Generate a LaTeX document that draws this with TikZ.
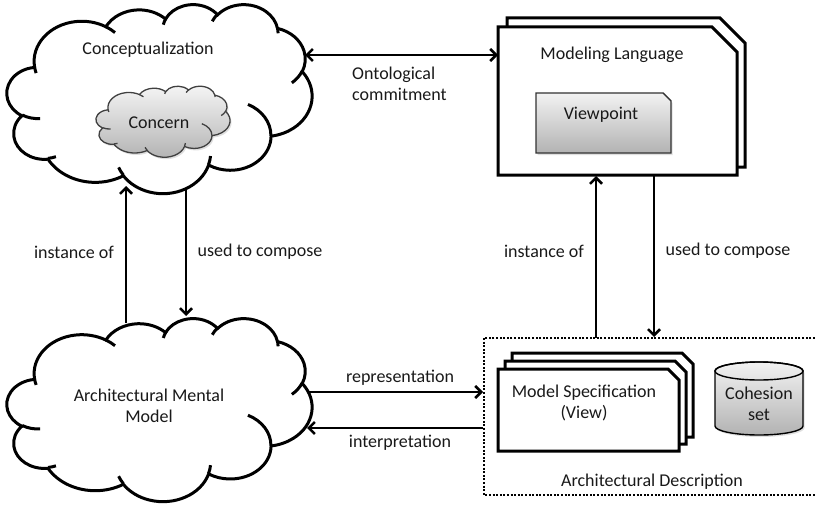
\documentclass[tikz,border=0pt]{standalone}
\usepackage{fontspec}
\setmainfont{Carlito}
\usetikzlibrary{arrows.meta,shadows}

\newcommand\carc[4]{arc[start angle={atan2(#1*sin(#3),#2*cos(#3))}, delta angle={mod(atan2(#1*sin(#3+#4),#2*cos(#3+#4))-atan2(#1*sin(#3),#2*cos(#3))+720,360)}, x radius=#1, y radius=#2]}

\newcommand\cloudouter{(39.00,143.70)
 \carc{67.53}{91.90}{-190.4875}{123.7805}
 \carc{53.33}{72.67}{-144.1024}{89.9452}
 \carc{43.65}{59.45}{-145.8079}{99.7230}
 \carc{48.57}{65.95}{-130.9861}{117.2417}
 \carc{53.33}{72.73}{-78.7089}{109.0269}
 \carc{67.75}{92.20}{-46.2673}{130.2690}
 \carc{57.85}{78.67}{0.6250}{114.0333}
 \carc{67.52}{92.15}{22.4516}{115.1726}
 \carc{77.20}{105.43}{66.2426}{75.7110}
 \carc{43.60}{59.18}{-274.9421}{146.7356}
 \carc{43.45}{59.45}{-246.8285}{152.5189} -- cycle}

\newcommand\cloudinner{(46.93,261.77) \carc{43.45}{59.45}{86.7420}{26.4295}
 (69.28,348.99) \carc{43.60}{59.18}{73.6105}{11.4475}
 (164.78,390.90) \carc{67.52}{92.15}{137.6242}{14.0811}
 (288.27,347.51) \carc{67.52}{92.15}{6.4533}{15.9984}
 (341.29,229.54) \carc{57.85}{78.67}{-70.2924}{70.9174}
 (417.98,153.54) \carc{53.33}{72.73}{30.3180}{27.7515}
 (383.24,54.26) \carc{48.57}{65.95}{-13.7443}{14.8589}
 (290.78,39.52) \carc{48.57}{65.95}{-149.1815}{18.1954}
 (221.41,47.20) \carc{43.65}{59.45}{-163.4943}{19.5048}
 (140.00,51.92) \carc{67.53}{91.90}{-66.7070}{12.3194}
 (41.27,157.89) \carc{67.53}{91.90}{157.6544}{11.8582}}

% #1 outer style, #2 inner style, #3 x0, #4 y0, #5 width, #6 height
\newcommand\drawcloud[6]{%
 \pgfmathsetmacro\cxs{#5/432}\pgfmathsetmacro\cys{#6/432}%
 \begin{scope}[shift={(#3,#4)},x=\cxs pt,y=-\cys pt]
  \path[#1] \cloudouter;
  \path[#2] \cloudinner;
 \end{scope}}

\tikzset{
 cloudout/.style={draw=black, line width=3pt, fill=white},
 cloudin/.style={draw=black, line width=3pt},
 concernout/.style={draw=black!75, line width=1.3pt, top color=black!4, bottom color=black!30,
   drop shadow={opacity=0.25, shadow xshift=1.5pt, shadow yshift=-2pt}},
 concernin/.style={draw=black!75, line width=1.3pt},
 doc/.style={draw=black, line width=3pt, fill=white},
 grayshape/.style={draw=black!80, line width=1.4pt, top color=black!5, bottom color=black!30,
   drop shadow={opacity=0.25, shadow xshift=1.5pt, shadow yshift=-2pt}},
 conn/.style={line width=2.5pt, -{Straight Barb[length=6pt,width=12pt]}},
 biconn/.style={line width=2.5pt, {Straight Barb[length=6pt,width=12pt]}-{Straight Barb[length=6pt,width=12pt]}},
 lbl/.style={font=\fontsize{18}{21}\selectfont, text=black!90, inner sep=0pt, align=center},
}

\begin{document}
\begin{tikzpicture}[x=1pt,y=-1pt]
\useasboundingbox (0,0) rectangle (816,508);

% clouds
\drawcloud{cloudout}{cloudin}{7}{4}{305}{189}
\drawcloud{concernout}{concernin}{96}{86}{134}{71}
\drawcloud{cloudout}{cloudin}{7}{318}{305}{183}

\node[lbl] (concept) at (148,50) {Conceptualization};
\node[lbl] (concern) at (159,123) {Concern};
\node[lbl] (amm) at (149,406) {Architectural Mental\\Model};

% Modeling language stack
\path[doc] (507,18) -- (720,18) -- (745,43) -- (745,167) -- (507,167) -- cycle;
\path[doc] (498,27) -- (712,27) -- (737,52) -- (737,175) -- (498,175) -- cycle;
\node[lbl] (ml) at (612,55) {Modeling Language};
\path[grayshape] (536,93) -- (663,93) -- (671,101) -- (671,153) -- (536,153) -- cycle;
\node[lbl] (vp) at (601,115) {Viewpoint};

% Architectural description
\draw[line width=2.2pt, dash pattern=on 2pt off 1.6pt] (484,338) rectangle (820,495);
\node[lbl] (ad) at (652,482) {Architectural Description};
\path[doc] (512,353) -- (682,353) -- (693,364) -- (693,437) -- (512,437) -- cycle;
\path[doc] (505,361) -- (675,361) -- (686,372) -- (686,444) -- (505,444) -- cycle;
\path[doc] (498,369) -- (668,369) -- (679,380) -- (679,451) -- (498,451) -- cycle;
\node[lbl] (ms) at (584,403) {Model Specification\\(View)};

% cylinder
\path[grayshape, draw=black] (715,371) -- (715,426) arc[start angle=180, delta angle=-180, x radius=44, y radius=9]
  -- (803,371) arc[start angle=0, delta angle=-180, x radius=44, y radius=9] -- cycle;
\draw[black, line width=1.4pt] (759,371) ellipse [x radius=44, y radius=9];
\node[lbl] (coh) at (759,404) {Cohesion\\set};

% connector end points
\coordinate (oc1) at (305,55);
\coordinate (oc2) at (498,55);
\coordinate (lu1) at (126,323);
\coordinate (lu2) at (126,186);
\coordinate (ld1) at (186,190);
\coordinate (ld2) at (186,316);
\coordinate (ru1) at (596,338);
\coordinate (ru2) at (596,176);
\coordinate (rd1) at (654,176);
\coordinate (rd2) at (654,337);
\coordinate (rp1) at (307,392);
\coordinate (rp2) at (483,392);
\coordinate (ip1) at (483,428);
\coordinate (ip2) at (307,428);

\draw[biconn] (oc1) -- (oc2);
\draw[conn] (lu1) -- (lu2);
\draw[conn] (ld1) -- (ld2);
\draw[conn] (ru1) -- (ru2);
\draw[conn] (rd1) -- (rd2);
\draw[conn] (rp1) -- (rp2);
\draw[conn] (ip1) -- (ip2);

\node[lbl, align=left, anchor=west] (ontl) at (352,83.5) {Ontological\\commitment};
\node[lbl] (inst1) at (74,252) {instance of};
\node[lbl] (used1) at (260,252) {used to compose};
\node[lbl] (inst2) at (544,251) {instance of};
\node[lbl] (used2) at (728,251) {used to compose};
\node[lbl] (repr) at (400,378) {representation};
\node[lbl] (interp) at (400,443) {interpretation};
\end{tikzpicture}
\end{document}
